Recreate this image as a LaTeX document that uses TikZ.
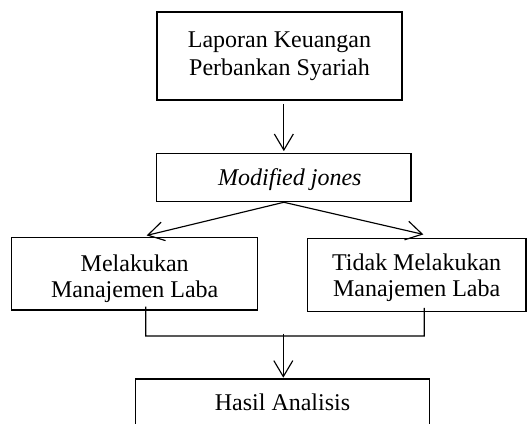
\documentclass[tikz,border=0pt]{standalone}
\usepackage{fontspec}
\setmainfont{Liberation Serif}
\usetikzlibrary{arrows.meta}
\begin{document}
\begin{tikzpicture}[x=1pt,y=1pt,
  box/.style={draw=black, line width=1.15pt, rectangle, inner sep=0pt, align=center},
  conn/.style={draw=black, line width=1.15pt},
  arr/.style={conn, -{Straight Barb[length=16pt,width=19pt]}}]
\clip (0,0) rectangle (527,-423);
\fill[white] (0,0) rectangle (527,-423);
% boxes
\node[box, minimum width=245pt, minimum height=88pt, font=\fontsize{24}{28}\selectfont]
  (top) at (279.5,-56) {Laporan Keuangan\\Perbankan Syariah};
\node[box, minimum width=254.3pt, minimum height=48.4pt, font=\fontsize{24}{28}\selectfont]
  (mj) at (283.85,-177.5) {\rule{0pt}{22pt}\hspace*{12pt}\textit{Modified jones}};
\node[box, minimum width=246pt, minimum height=72.7pt, font=\fontsize{24}{26}\selectfont]
  (lb) at (134.7,-273.65) {\rule{0pt}{26.2pt}Melakukan\\Manajemen Laba};
\node[box, minimum width=218.7pt, minimum height=73.4pt, font=\fontsize{24}{25.3}\selectfont]
  (rb) at (416.65,-275) {\rule{0pt}{21.9pt}Tidak Melakukan\\Manajemen Laba};
\node[box, minimum width=293.6pt, minimum height=47pt, font=\fontsize{24}{28}\selectfont]
  (bb) at (282.5,-402.5) {Hasil Analisis};
% junction points
\coordinate (jl) at (145.7,-336);
\coordinate (jr) at (424.3,-336);
\coordinate (jm) at (283.3,-333.5);
% connectors
\draw[arr, shorten <=3.3pt, shorten >=1.6pt] (top.south -| mj.north) -- (mj.north);
\draw[arr] (mj.south) -- ([xshift=12pt,yshift=1.3pt]lb.north);
\draw[arr] (mj.south) -- ([xshift=6.7pt,yshift=3.3pt]rb.north);
\draw[conn] ([xshift=11pt,yshift=4pt]lb.south) -- (jl) -- (jr) -- ([xshift=7.65pt,yshift=4.4pt]rb.south);
\draw[arr, shorten >=0.7pt] (jm) -- (jm |- bb.north);
\end{tikzpicture}
\end{document}
